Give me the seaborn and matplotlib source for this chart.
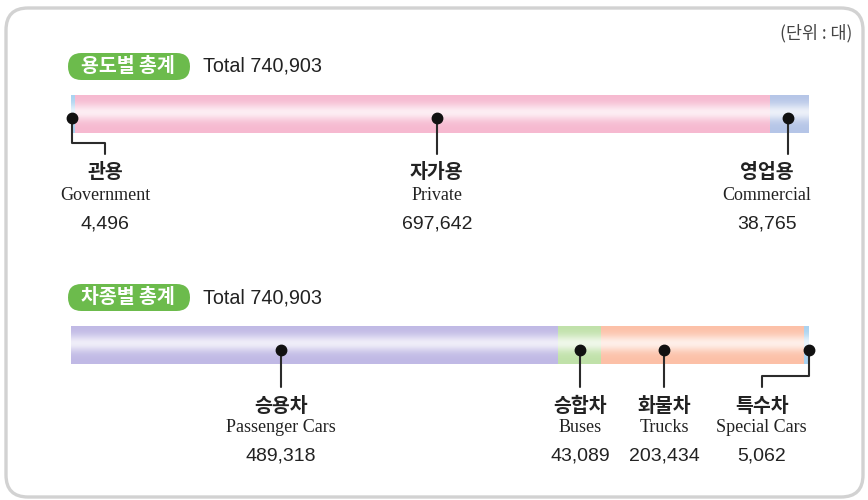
"""
plot.py
Stacked-bar infographic: registered vehicles by usage and by vehicle type.
"""
import matplotlib

matplotlib.use("Agg")
import matplotlib.pyplot as plt
import matplotlib.transforms as mtransforms
import numpy as np
import pandas as pd
import seaborn as sns
from matplotlib.patches import FancyBboxPatch

# --- data -------------------------------------------------------------
usage_ko = ["관용", "자가용", "영업용"]
usage_en = ["Government", "Private", "Commercial"]
usage_vals = [4496, 697642, 38765]

type_ko = ["승용차", "승합차", "화물차", "특수차"]
type_en = ["Passenger Cars", "Buses", "Trucks", "Special Cars"]
type_vals = [489318, 43089, 203434, 5062]

usage_title = "용도별 총계"
type_title = "차종별 총계"
unit_label = "(단위 : 대)"

# --- style ------------------------------------------------------------
W, H = 868, 500
usage_colors = ["#a9d2f0", "#f6b9d0", "#b5c5e7"]
type_colors = ["#c0b9e5", "#c0e1a9", "#fcc0a7", "#a9d2f0"]
# where the callout dot sits inside each segment (fraction of segment width)
usage_anchor = [0.3, 0.52, 0.46]
type_anchor = [0.43, 0.5, 0.31, 0.95]
# horizontal shift (px) of the label relative to the dot; elbow leader if shifted
usage_shift = [33, 0, -21]
type_shift = [0, 0, 0, -47]
usage_elbow = [True, False, False]
type_elbow = [False, False, False, True]

sns.set_theme(style="white")
plt.rcParams["font.family"] = ["Noto Sans CJK KR", "DejaVu Sans"]

fig = plt.figure(figsize=(W / 100, H / 100), dpi=100)
fig.patch.set_facecolor("white")

# pixel coordinates measured from the top-left corner of the image
pix = mtransforms.Affine2D().scale(1 / W, -1 / H).translate(0, 1) + fig.transFigure

frame = FancyBboxPatch((6, 8), 857, 489, boxstyle="round,pad=0,rounding_size=22",
                       transform=pix, fc="none", ec="#d2d2d2", lw=2.4, zorder=-1)
fig.patches.append(frame)
fig.text(852, 33, unit_label, transform=pix, ha="right", va="center",
         fontsize=12.5, color="#444444", fontweight="light")

BAR_X0, BAR_X1 = 71, 809


def pill(y_top, title, total):
    box = FancyBboxPatch((68, y_top), 122, 27, boxstyle="round,pad=0,rounding_size=13.5",
                         transform=pix, fc="#6cbb4c", ec="none")
    fig.patches.append(box)
    fig.text(128, y_top + 13.5, title, transform=pix, ha="center", va="center",
             fontsize=14, fontweight="bold", color="white")
    fig.text(203, y_top + 13.5, f"Total {total:,}", transform=pix, ha="left",
             va="center", fontsize=14.2, color="#222222",
             family=["Liberation Sans", "DejaVu Sans"])


def stacked_bar(y_top, y_bot, names_ko, names_en, vals, colors, anchors, shifts,
                elbows, dot_dy, line_end, text_y):
    total = sum(vals)
    ax = fig.add_axes([BAR_X0 / W, 1 - y_bot / H, (BAR_X1 - BAR_X0) / W, (y_bot - y_top) / H])
    ax.patch.set_alpha(0)
    ends = np.cumsum(vals)
    df = pd.DataFrame({"row": ["all"] * len(vals), "end": ends, "seg": names_en})
    # overlapping bars drawn largest-first give a stacked bar
    order = names_en[::-1]
    sns.barplot(data=df, x="end", y="row", hue="seg", hue_order=order,
                palette=dict(zip(names_en, colors)), dodge=False, width=1.0,
                orient="h", legend=False, ax=ax, saturation=1, linewidth=0)

    # soft glossy highlight across the bar
    t = np.linspace(0, 1, 60)
    alpha = 0.75 * np.exp(-((t - 0.45) / 0.22) ** 2)
    glow = np.ones((60, 1, 4))
    glow[:, 0, 3] = alpha
    ax.imshow(glow, extent=(0, total, 0.5, -0.5), aspect="auto", zorder=3,
              interpolation="bilinear")
    ax.set_xlim(0, total)
    ax.set_ylim(0.5, -0.5)
    ax.axis("off")

    trans = mtransforms.blended_transform_factory(ax.transData, pix)
    per_px = total / (BAR_X1 - BAR_X0)
    bar_mid = (y_top + y_bot) / 2 + dot_dy
    starts = ends - np.array(vals)
    for ko, en, v, s, fr, sh, el in zip(names_ko, names_en, vals, starts, anchors,
                                        shifts, elbows):
        xd = s + fr * v
        xl = xd + sh * per_px
        if el:
            knee = line_end - 11
            xs, ys = [xd, xd, xl, xl], [bar_mid, knee, knee, line_end]
        else:
            xs, ys = [xd, xd], [bar_mid, line_end]
        ax.plot(xs, ys, transform=trans, color="#2b2b2b", lw=1.5, clip_on=False, zorder=4)
        ax.plot([xd], [bar_mid], "o", transform=trans, color="#111111", ms=7.5,
                clip_on=False, zorder=5)
        ax.text(xl, text_y[0], ko, transform=trans, ha="center", va="center",
                fontsize=14, fontweight="bold", color="#222222")
        ax.text(xl, text_y[1], en, transform=trans, ha="center", va="center",
                fontsize=13, color="#222222", family=["Liberation Serif", "DejaVu Serif"])
        ax.text(xl, text_y[2], f"{v:,}", transform=trans, ha="center", va="center",
                fontsize=14, color="#222222", family=["Liberation Sans", "DejaVu Sans"])
    return ax


pill(53, usage_title, sum(usage_vals))
stacked_bar(95, 133, usage_ko, usage_en, usage_vals, usage_colors, usage_anchor,
            usage_shift, usage_elbow, 4, 154, (172, 196, 224))

pill(284, type_title, sum(type_vals))
stacked_bar(326, 364, type_ko, type_en, type_vals, type_colors, type_anchor,
            type_shift, type_elbow, 5, 387, (406, 428, 456))

fig.savefig("out.png", dpi=100, facecolor="white")
